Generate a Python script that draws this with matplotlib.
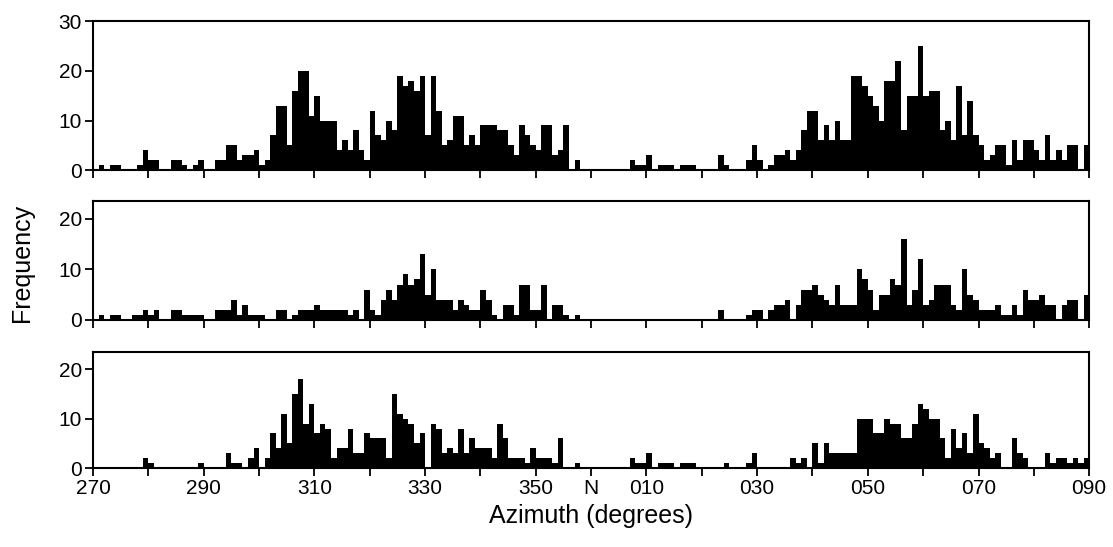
import matplotlib
matplotlib.use("Agg")
import matplotlib.pyplot as plt
import numpy as np

plt.rcParams['font.family'] = ['Liberation Sans', 'DejaVu Sans']

# bins of 1 degree, 270 -> 450 (090)
bin_start = 270
n_bins = 180

top_counts = [
    0, 1, 0, 1, 1, 0, 0, 0, 1, 4,
    2, 2, 0, 0, 2, 2, 1, 0, 1, 2,
    0, 0, 2, 2, 5, 5, 2, 3, 3, 4,
    1, 2, 7, 13, 13, 5, 16, 20, 20, 11,
    15, 10, 10, 10, 4, 6, 4, 8, 4, 2,
    12, 7, 6, 10, 8, 19, 17, 18, 16, 19,
    7, 19, 12, 5, 6, 11, 11, 5, 7, 5,
    9, 9, 9, 8, 8, 5, 3, 9, 7, 5,
    4, 9, 9, 3, 4, 9, 0, 2, 0, 0,
    0, 0, 0, 0, 0, 0, 0, 2, 1, 1,
    3, 0, 1, 1, 1, 0, 1, 1, 1, 0,
    0, 0, 0, 3, 1, 0, 0, 0, 2, 5,
    2, 0, 1, 3, 3, 4, 2, 4, 8, 12,
    12, 6, 9, 6, 10, 6, 6, 19, 19, 17,
    15, 13, 10, 18, 18, 22, 8, 15, 15, 25,
    15, 16, 16, 8, 10, 6, 17, 7, 14, 7,
    5, 2, 3, 5, 5, 1, 6, 2, 6, 6,
    4, 2, 7, 2, 4, 2, 5, 5, 0, 5,
]

middle_counts = [
    0, 1, 0, 1, 1, 0, 0, 1, 1, 2,
    1, 2, 0, 0, 2, 2, 1, 1, 1, 1,
    0, 0, 2, 2, 2, 4, 1, 3, 1, 1,
    1, 0, 0, 2, 2, 0, 1, 2, 2, 2,
    3, 2, 2, 2, 2, 2, 1, 2, 0, 6,
    2, 1, 4, 6, 4, 7, 9, 7, 8, 13,
    5, 10, 4, 4, 4, 2, 4, 3, 2, 2,
    6, 4, 1, 0, 3, 3, 1, 7, 7, 2,
    2, 7, 0, 3, 3, 1, 0, 1, 0, 0,
    0, 0, 0, 0, 0, 0, 0, 0, 0, 0,
    0, 0, 0, 0, 0, 0, 0, 0, 0, 0,
    0, 0, 0, 2, 0, 0, 0, 0, 1, 2,
    2, 0, 2, 3, 3, 4, 0, 3, 6, 6,
    7, 5, 4, 3, 7, 3, 3, 3, 10, 8,
    6, 2, 5, 5, 8, 7, 16, 3, 6, 12,
    3, 4, 7, 7, 7, 3, 2, 10, 5, 4,
    2, 2, 2, 3, 1, 1, 3, 1, 6, 4,
    4, 5, 3, 3, 0, 3, 4, 4, 0, 5,
]

bottom_counts = [
    0, 0, 0, 0, 0, 0, 0, 0, 0, 2,
    1, 0, 0, 0, 0, 0, 0, 0, 0, 1,
    0, 0, 0, 0, 3, 1, 1, 0, 2, 4,
    0, 2, 7, 4, 11, 5, 15, 18, 9, 13,
    7, 9, 8, 2, 4, 4, 8, 3, 3, 7,
    6, 6, 6, 2, 15, 11, 10, 9, 5, 7,
    0, 9, 8, 3, 4, 3, 8, 3, 6, 4,
    4, 4, 2, 9, 6, 2, 2, 2, 1, 4,
    2, 2, 2, 1, 6, 0, 0, 1, 0, 0,
    0, 0, 0, 0, 0, 0, 0, 2, 1, 1,
    3, 0, 1, 1, 1, 0, 1, 1, 1, 0,
    0, 0, 0, 0, 1, 0, 0, 0, 1, 3,
    0, 0, 0, 0, 0, 0, 2, 1, 2, 0,
    5, 1, 5, 3, 3, 3, 3, 3, 10, 10,
    10, 7, 7, 10, 9, 9, 6, 6, 9, 13,
    12, 10, 10, 6, 2, 8, 4, 7, 3, 11,
    5, 4, 2, 3, 0, 0, 6, 3, 2, 0,
    0, 0, 3, 1, 2, 2, 1, 2, 1, 2,
]

tick_pos = [270, 290, 310, 330, 350, 360, 370, 390, 410, 430, 450]
tick_labels = ["270", "290", "310", "330", "350", "N", "010", "030", "050", "070", "090"]

edges = np.arange(bin_start, bin_start + n_bins)

fig = plt.figure(figsize=(11.13, 5.47), dpi=100)

# [left, bottom, width, height]
boxes = [[0.0836, 0.689, 0.895, 0.272],
         [0.0836, 0.415, 0.895, 0.2175],
         [0.0836, 0.1444, 0.895, 0.212]]
panels = [top_counts, middle_counts, bottom_counts]
ytops = [30, 23.5, 23.5]
yticks = [[0, 10, 20, 30], [0, 10, 20], [0, 10, 20]]

axes = []
for i in range(3):
    ax = fig.add_axes(boxes[i])
    ax.bar(edges, panels[i], width=1.0, align='edge', color='black', linewidth=0)
    ax.set_xlim(270, 450)
    ax.set_ylim(0, ytops[i])
    ax.set_yticks(yticks[i])
    ax.set_xticks(np.arange(270, 451, 10))
    if i == 2:
        ax.set_xticks(tick_pos)
        ax.set_xticklabels(tick_labels)
        ax.set_xticks([280, 300, 320, 340, 380, 400, 420, 440], minor=True)
    else:
        ax.set_xticklabels([])
    ax.tick_params(axis='both', which='both', direction='out', length=6, width=1.3,
                   labelsize=15, colors='black', pad=2)
    for s in ax.spines.values():
        s.set_linewidth(1.5)
    axes.append(ax)

axes[2].tick_params(axis='x', which='minor', length=6, width=1.3)
axes[2].set_xlabel("Azimuth (degrees)", fontsize=18, labelpad=4)
fig.text(0.02, 0.52, "Frequency", rotation=90, fontsize=18, va='center', ha='center')

plt.savefig("out.png", dpi=100)
